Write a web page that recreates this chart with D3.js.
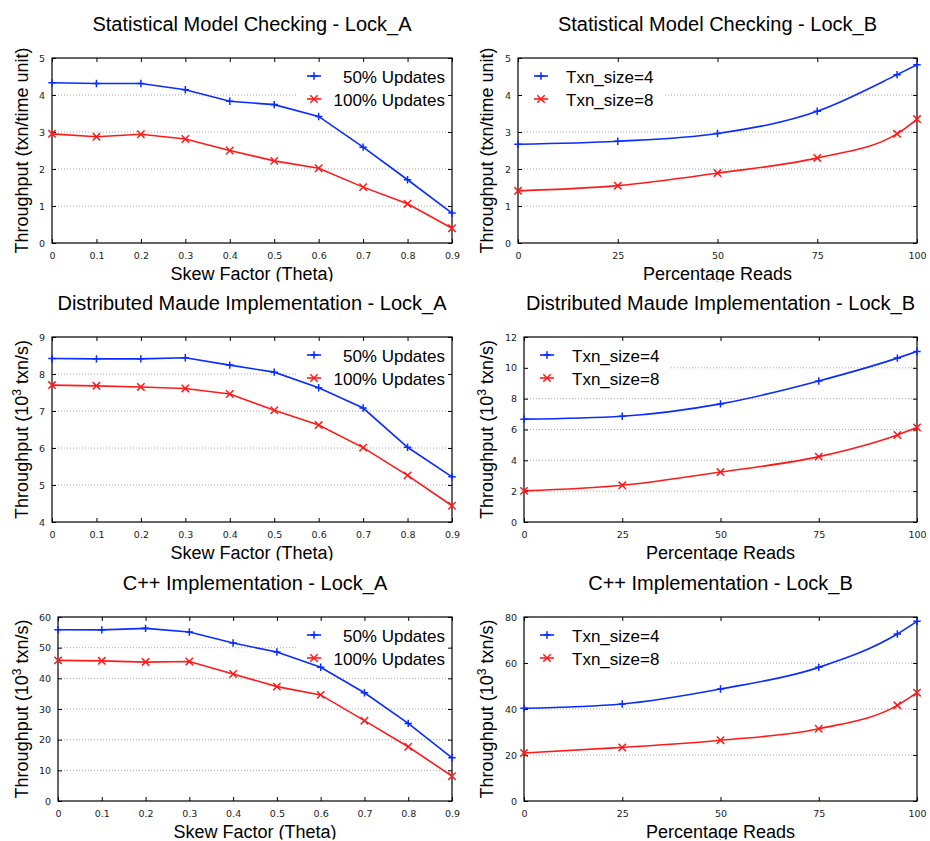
<!DOCTYPE html>
<html>
<head>
<meta charset="utf-8">
<script src="https://cdnjs.cloudflare.com/ajax/libs/d3/7.8.5/d3.min.js"></script>
<style>
body { margin: 0; background: #fff; }
.tick text { font-family: "DejaVu Sans", sans-serif; font-size: 9.5px; fill: #222; }
.tick line { stroke: #000; stroke-width: 1; }
.grid line { stroke: #a8a8a8; stroke-width: 1; stroke-dasharray: 1,2; }
text.title, text.label, text.legend { font-family: "Liberation Sans", Arial, sans-serif; fill: #000; }
</style>
</head>
<body>
<svg id="chart" width="930" height="841"></svg>
<script>

// ----------------------------------------- Data -----------------------------------------

var skewTheta = [0, 0.1, 0.2, 0.3, 0.4, 0.5, 0.6, 0.7, 0.8, 0.9];
var readsPct = [0, 25, 50, 75, 95, 100];

var skewTicks = [0, 0.1, 0.2, 0.3, 0.4, 0.5, 0.6, 0.7, 0.8, 0.9];
var readsTicks = [0, 25, 50, 75, 100];

var smcTicks = [0, 1, 2, 3, 4, 5];
var maudeATicks = [4, 5, 6, 7, 8, 9];
var maudeBTicks = [0, 2, 4, 6, 8, 10, 12];
var cppATicks = [0, 10, 20, 30, 40, 50, 60];
var cppBTicks = [0, 20, 40, 60, 80];

var smcLockA50 = [4.33, 4.31, 4.31, 4.14, 3.83, 3.74, 3.42, 2.59, 1.71, 0.81];
var smcLockA100 = [2.95, 2.87, 2.94, 2.81, 2.50, 2.22, 2.02, 1.51, 1.06, 0.40];
var smcLockB4 = [2.67, 2.75, 2.96, 3.56, 4.55, 4.82];
var smcLockB8 = [1.41, 1.55, 1.89, 2.30, 2.95, 3.35];

var maudeLockA50 = [8.42, 8.41, 8.41, 8.44, 8.24, 8.05, 7.63, 7.08, 6.02, 5.22];
var maudeLockA100 = [7.70, 7.68, 7.65, 7.61, 7.46, 7.02, 6.62, 6.01, 5.26, 4.44];
var maudeLockB4 = [6.67, 6.86, 7.66, 9.15, 10.63, 11.06];
var maudeLockB8 = [2.02, 2.38, 3.24, 4.24, 5.65, 6.13];

var cppLockA50 = [55.85, 55.8, 56.3, 55.1, 51.5, 48.6, 43.6, 35.3, 25.3, 14.1];
var cppLockA100 = [45.85, 45.7, 45.3, 45.5, 41.4, 37.3, 34.6, 26.2, 17.7, 8.1];
var cppLockB4 = [40.3, 42.2, 48.7, 58.1, 72.6, 78.1];
var cppLockB8 = [20.9, 23.3, 26.4, 31.4, 41.6, 47.1];

var titles = ["Statistical Model Checking - Lock_A", "Statistical Model Checking - Lock_B",
              "Distributed Maude Implementation - Lock_A", "Distributed Maude Implementation - Lock_B",
              "C++ Implementation - Lock_A", "C++ Implementation - Lock_B"];
var legendLockA = ["50% Updates", "100% Updates"];
var legendLockB = ["Txn_size=4", "Txn_size=8"];

// ----------------------------------------- Layout -----------------------------------------

var blue = "#0a2cff";
var red = "#ff1a1a";

var boxes = [
    {left: 52, right: 452, top: 58, bottom: 243, labelX: 28},
    {left: 518, right: 917, top: 58, bottom: 243, labelX: 493},
    {left: 52, right: 452, top: 337, bottom: 522, labelX: 28},
    {left: 524, right: 917, top: 337, bottom: 522, labelX: 493},
    {left: 58, right: 452, top: 617, bottom: 801, labelX: 28},
    {left: 524, right: 917, top: 617, bottom: 801, labelX: 493}
];

var panels = [
    {xs: skewTheta, xTicks: skewTicks, yTicks: smcTicks, series: [smcLockA50, smcLockA100], legend: legendLockA, unit: 'time'},
    {xs: readsPct, xTicks: readsTicks, yTicks: smcTicks, series: [smcLockB4, smcLockB8], legend: legendLockB, unit: 'time'},
    {xs: skewTheta, xTicks: skewTicks, yTicks: maudeATicks, series: [maudeLockA50, maudeLockA100], legend: legendLockA, unit: 'k'},
    {xs: readsPct, xTicks: readsTicks, yTicks: maudeBTicks, series: [maudeLockB4, maudeLockB8], legend: legendLockB, unit: 'k'},
    {xs: skewTheta, xTicks: skewTicks, yTicks: cppATicks, series: [cppLockA50, cppLockA100], legend: legendLockA, unit: 'k'},
    {xs: readsPct, xTicks: readsTicks, yTicks: cppBTicks, series: [cppLockB4, cppLockB8], legend: legendLockB, unit: 'k'}
];

var svg = d3.select('#chart');

panels.forEach(function(p, i){
    drawPanel(p, boxes[i], titles[i], i);
});

// ----------------------------------------- Panel function -----------------------------------------

function drawPanel(p, b, title, idx){

    var isSkew = p.xs === skewTheta;
    var g = svg.append('g');

    var x = d3.scaleLinear()
              .domain([p.xTicks[0], p.xTicks[p.xTicks.length - 1]])
              .range([b.left, b.right]);
    var y = d3.scaleLinear()
              .domain([p.yTicks[0], p.yTicks[p.yTicks.length - 1]])
              .range([b.bottom, b.top]);

    // Dotted grid
    g.append('g')
        .classed('grid', true)
        .selectAll('line')
        .data(p.yTicks.slice(1, -1))
        .enter()
        .append('line')
            .attr('x1', b.left)
            .attr('x2', b.right)
            .attr('y1', d => y(d))
            .attr('y2', d => y(d));

    // Opaque key box (hides the grid behind the legend)
    var boxW = isSkew ? 154 : 147;
    g.append('rect')
        .attr('x', isSkew ? b.right - boxW : b.left + 1)
        .attr('y', b.top + 1)
        .attr('width', boxW - 1)
        .attr('height', 56)
        .attr('fill', '#fff');

    // Axes, ticks point inwards on all four sides
    var fmt = d => String(d);
    g.append('g')
        .attr('transform', `translate(0,${b.bottom})`)
        .call(d3.axisBottom(x).tickValues(p.xTicks).tickFormat(fmt).tickSizeInner(-4).tickSizeOuter(0).tickPadding(9));
    g.append('g')
        .attr('transform', `translate(0,${b.top})`)
        .call(d3.axisTop(x).tickValues(p.xTicks).tickFormat('').tickSizeInner(-4).tickSizeOuter(0));
    g.append('g')
        .attr('transform', `translate(${b.left},0)`)
        .call(d3.axisLeft(y).tickValues(p.yTicks).tickFormat(fmt).tickSizeInner(-4).tickSizeOuter(0).tickPadding(7));
    g.append('g')
        .attr('transform', `translate(${b.right},0)`)
        .call(d3.axisRight(y).tickValues(p.yTicks).tickFormat('').tickSizeInner(-4).tickSizeOuter(0));
    g.selectAll('.domain').remove();

    // Frame
    g.append('rect')
        .attr('x', b.left)
        .attr('y', b.top)
        .attr('width', b.right - b.left)
        .attr('height', b.bottom - b.top)
        .attr('fill', 'none')
        .attr('stroke', '#000')
        .attr('stroke-width', 1.2);

    // Lines and points
    var colors = [blue, red];
    var line = d3.line()
                 .x((d, j) => x(p.xs[j]))
                 .y(d => y(d))
                 .curve(isSkew ? d3.curveLinear : d3.curveMonotoneX);

    p.series.forEach(function(vals, k){
        g.append('path')
            .attr('d', line(vals))
            .attr('fill', 'none')
            .attr('stroke', colors[k])
            .attr('stroke-width', 1.6);

        g.selectAll('.pt' + k)
            .data(vals)
            .enter()
            .append('path')
                .classed('pt' + k, true)
                .attr('transform', (d, j) => `translate(${x(p.xs[j])},${y(d)})`)
                .attr('d', marker(k))
                .attr('fill', 'none')
                .attr('stroke', colors[k])
                .attr('stroke-width', 1.5);
    });

    // Legend
    p.legend.forEach(function(name, k){
        var by = b.top + 25 + 23 * k;
        var sx = isSkew ? b.right - 138 : b.left + 23;

        g.append('line')
            .attr('x1', sx - 7).attr('x2', sx + 7)
            .attr('y1', by - 7).attr('y2', by - 7)
            .attr('stroke', colors[k])
            .attr('stroke-width', 1.6);
        g.append('path')
            .attr('transform', `translate(${sx},${by - 7})`)
            .attr('d', marker(k))
            .attr('fill', 'none')
            .attr('stroke', colors[k])
            .attr('stroke-width', 1.5);

        g.append('text')
            .classed('legend', true)
            .attr('x', isSkew ? b.right - 7 : b.left + 48)
            .attr('y', by)
            .attr('text-anchor', isSkew ? 'end' : 'start')
            .style('font-size', '17px')
            .text(name);
    });

    // Title
    g.append('text')
        .classed('title', true)
        .attr('x', (b.left + b.right) / 2)
        .attr('y', b.top - 27)
        .attr('text-anchor', 'middle')
        .style('font-size', '20px')
        .text(title);

    // X label (bottom clipped like the cropped originals)
    svg.append('clipPath')
        .attr('id', 'clip' + idx)
        .append('rect')
            .attr('x', b.left - 60)
            .attr('y', b.bottom + 10)
            .attr('width', b.right - b.left + 120)
            .attr('height', 28.5);

    g.append('text')
        .classed('label', true)
        .attr('x', (b.left + b.right) / 2)
        .attr('y', b.bottom + 37)
        .attr('text-anchor', 'middle')
        .attr('clip-path', `url(#clip${idx})`)
        .style('font-size', '18px')
        .text(isSkew ? 'Skew Factor (Theta)' : 'Percentage Reads');

    // Y label
    var cy = (b.top + b.bottom) / 2;
    var yl = g.append('text')
        .classed('label', true)
        .attr('x', b.labelX)
        .attr('y', cy)
        .attr('transform', `rotate(-90,${b.labelX},${cy})`)
        .attr('text-anchor', 'middle')
        .style('font-size', '18px');

    if (p.unit == 'time'){
        yl.text('Throughput (txn/time unit)');
    } else {
        yl.append('tspan').text('Throughput (10');
        yl.append('tspan').attr('dy', -7).style('font-size', '12px').text('3');
        yl.append('tspan').attr('dy', 7).text(' txn/s)');
    }
}

// ----------------------------------------- Point shapes -----------------------------------------

function marker(k){
    var s = 3.7;
    if (k == 0) return `M${-s},0H${s}M0,${-s}V${s}`;
    return `M${-s},${-s}L${s},${s}M${-s},${s}L${s},${-s}`;
}

</script>
</body>
</html>
